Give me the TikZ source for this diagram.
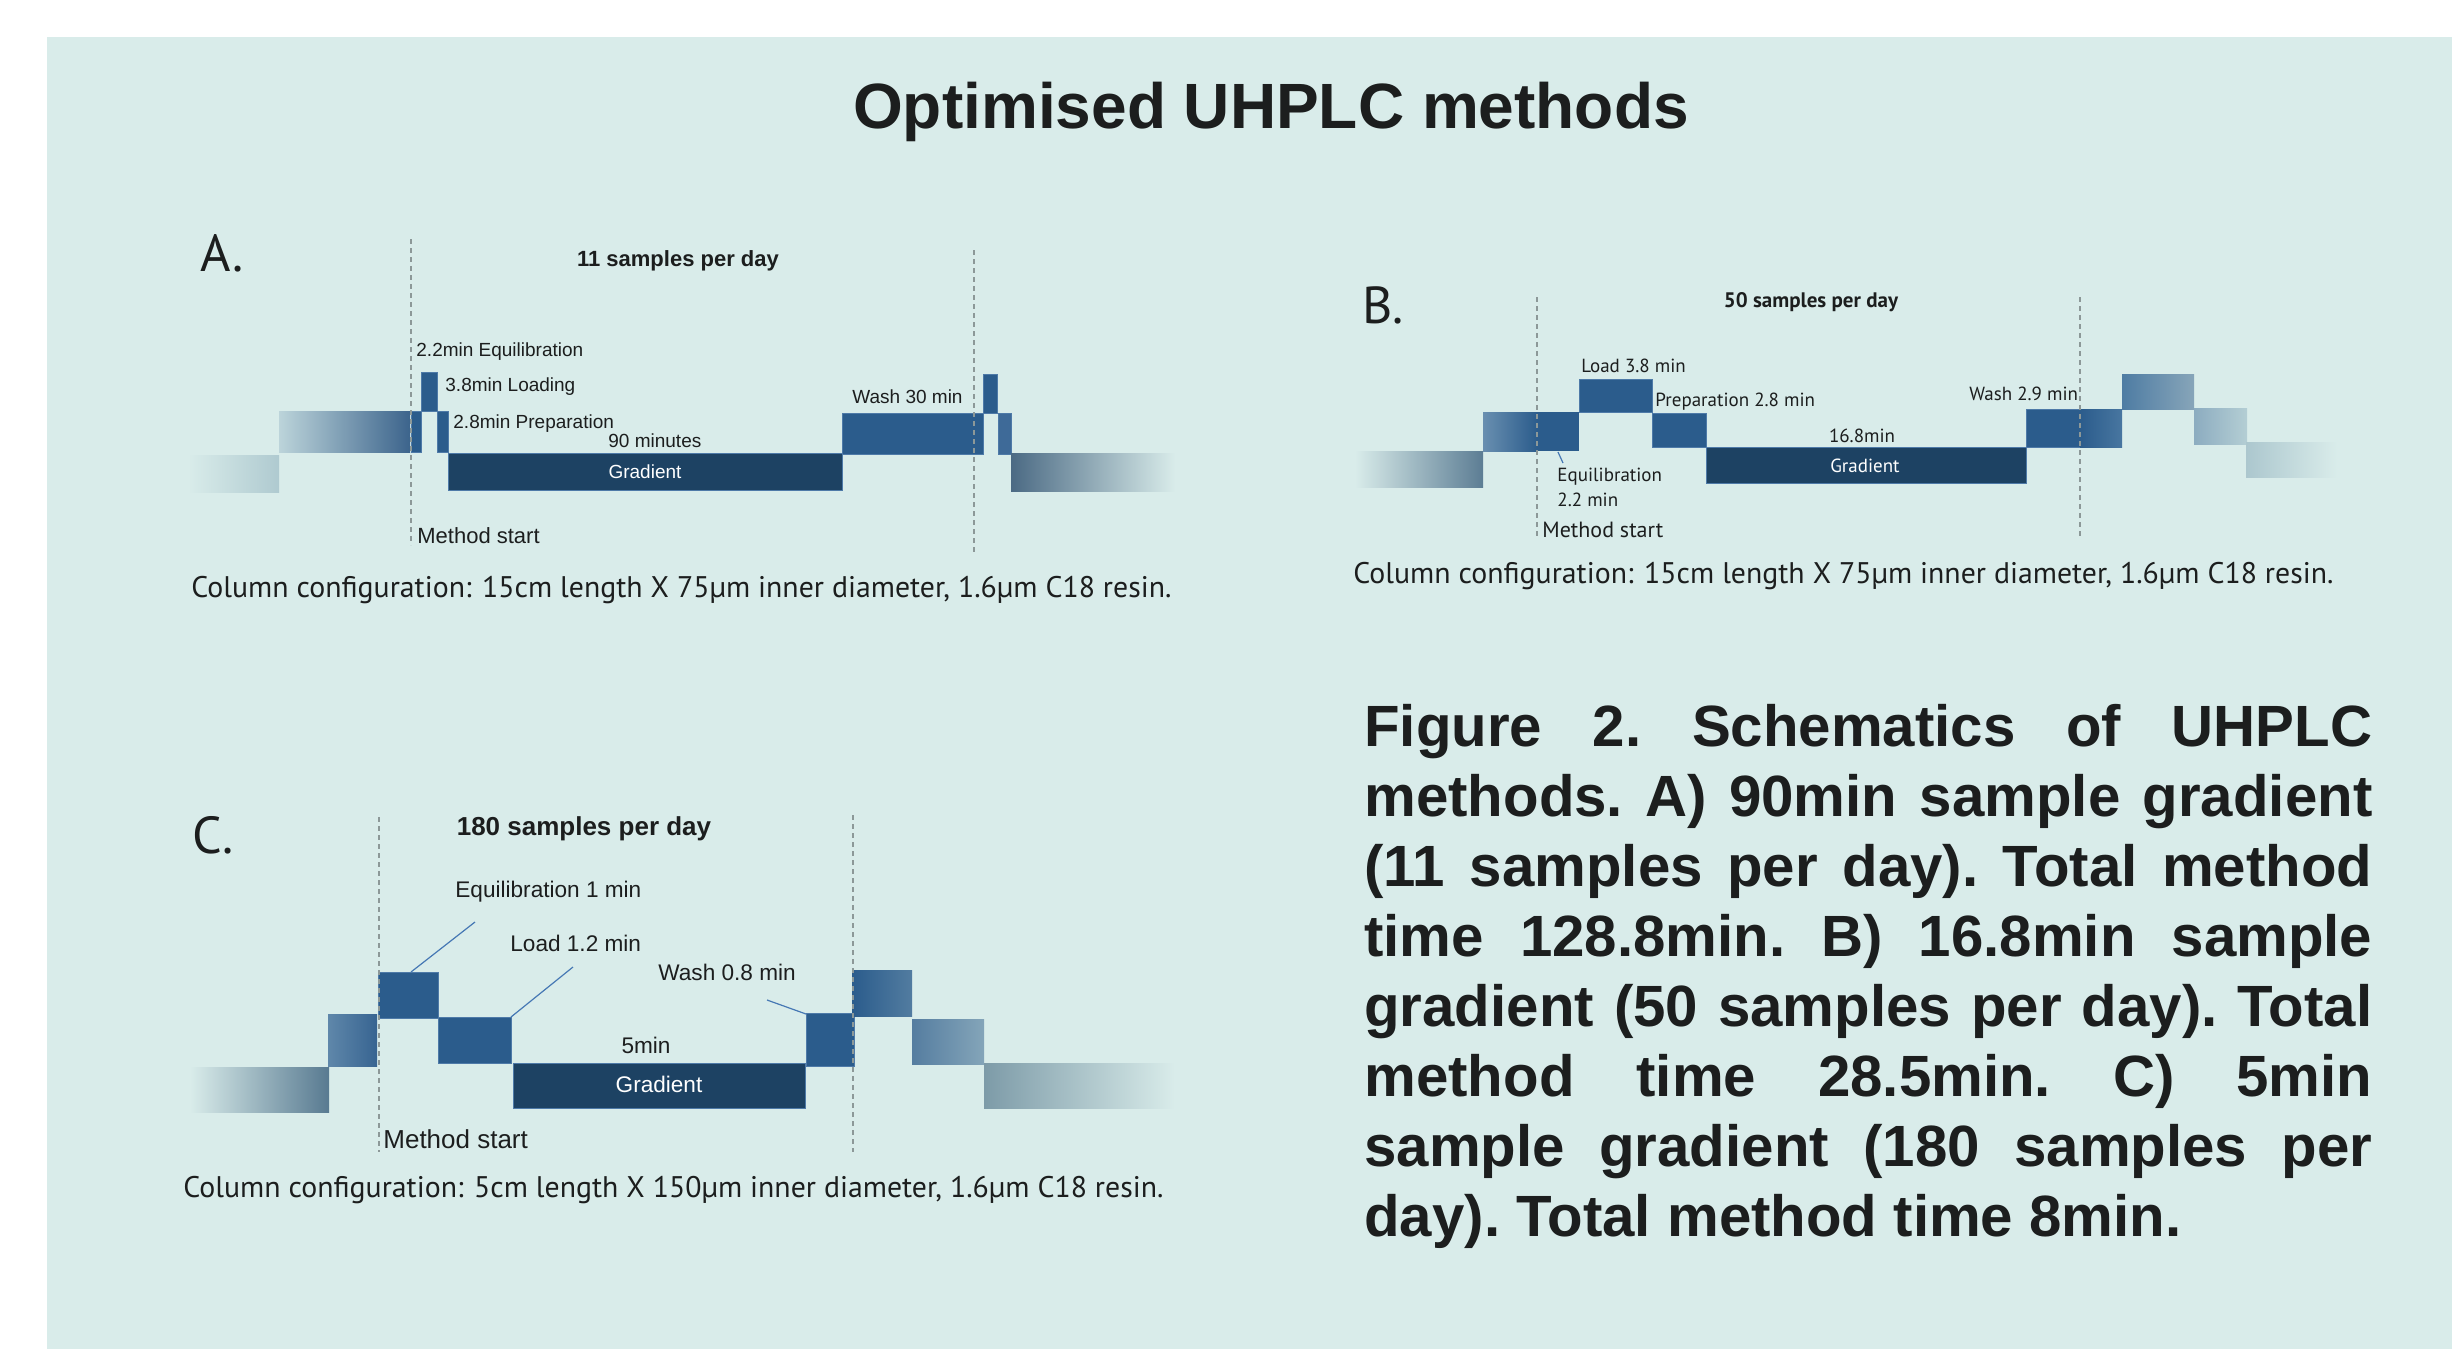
\documentclass[tikz,border=0pt]{standalone}
\usepackage{fontspec}
\setmainfont{Liberation Sans}
\newfontfamily\cfgfont{PT Sans}

\definecolor{panelbg}{RGB}{217,236,234}
\definecolor{ink}{RGB}{28,30,30}
\definecolor{stepblue}{RGB}{43,92,140}
\definecolor{navy}{RGB}{29,66,99}
\definecolor{edgeblue}{RGB}{78,122,168}
\definecolor{leadblue}{RGB}{70,120,180}
\definecolor{guidegray}{RGB}{140,152,152}
\definecolor{paleblue}{RGB}{62,106,152}
\definecolor{fadeAlow}{RGB}{175,202,208}
\definecolor{fadeAlt}{RGB}{188,212,218}
\definecolor{fadeAdk}{RGB}{60,100,140}
\definecolor{fadeAr}{RGB}{75,106,132}
\definecolor{fadeBl}{RGB}{92,125,148}
\definecolor{fadeBm}{RGB}{105,143,176}
\definecolor{washBr}{RGB}{72,118,160}
\definecolor{fadeBtl}{RGB}{78,124,163}
\definecolor{fadeBtr}{RGB}{135,165,185}
\definecolor{fadeBsl}{RGB}{140,172,192}
\definecolor{fadeBsr}{RGB}{180,206,212}
\definecolor{fadeBe}{RGB}{172,199,206}
\definecolor{fadeCl}{RGB}{88,122,145}
\definecolor{fadeCml}{RGB}{95,135,170}
\definecolor{fadeCmr}{RGB}{55,100,145}
\definecolor{fadeCt}{RGB}{82,124,160}
\definecolor{fadeCsl}{RGB}{85,125,160}
\definecolor{fadeCsr}{RGB}{132,165,185}
\definecolor{fadeCe}{RGB}{125,155,168}

\begin{document}
\begin{tikzpicture}[x=0.5pt,y=-0.5pt,
  stepbox/.style={fill=stepblue,draw=edgeblue,line width=0.5pt},
  gradbox/.style={fill=navy,draw=edgeblue,line width=0.5pt},
  guideline/.style={draw=guidegray,line width=0.6pt,dash pattern=on 2.5pt off 2pt},
  leader/.style={draw=leadblue,line width=0.6pt},
  txt/.style={anchor=base west,inner sep=0pt,text=ink},
  ctxt/.style={anchor=base,inner sep=0pt},
  paneltag/.style={txt,font=\cfgfont\fontsize{26}{30}\selectfont},
  cfgline/.style={txt,font=\cfgfont\fontsize{14.9}{17}\selectfont}]
\useasboundingbox (0,0) rectangle (2452,1349);
\fill[white] (0,0) rectangle (2452,1349);
\fill[panelbg] (47,37) rectangle (2452,1349);

\node[ctxt,text=ink,font=\fontsize{32}{38}\selectfont\bfseries] (title) at (1271,128) {Optimised UHPLC methods};

% A: 90 min gradient
\begin{scope}[font=\fontsize{9.5}{11}\selectfont]
\shade[left color=panelbg,right color=fadeAlow] (188,455) rectangle (279,492);
\shade[left color=fadeAlt,right color=fadeAdk] (279,411) rectangle (410,452);
\draw[stepbox] (411,411) rectangle (421,452);
\draw[stepbox] (421,372) rectangle (437,411);
\draw[stepbox] (437,411) rectangle (448,452);
\draw[gradbox] (448,453) rectangle (842,490);
\draw[stepbox] (842,413) rectangle (983,454);
\draw[stepbox] (983,374) rectangle (997,413);
\draw[stepbox,fill=paleblue] (998,413) rectangle (1011,454);
\shade[left color=fadeAr,right color=panelbg] (1011,453) rectangle (1175,491);
\draw[guideline] (411,239) -- (411,545);
\draw[guideline] (974,250) -- (974,553);
\node[paneltag] (tagA) at (200,271) {A.};
\node[ctxt,text=ink,font=\fontsize{11}{13}\selectfont\bfseries] (headA) at (678,266) {11 samples per day};
\node[txt] (eqA) at (416,356) {2.2min Equilibration};
\node[txt] (loadA) at (445,391) {3.8min Loading};
\node[txt] (prepA) at (453,428) {2.8min Preparation};
\node[txt] (lenA) at (608,447) {90 minutes};
\node[ctxt,text=white] (gradA) at (645,478) {Gradient};
\node[txt] (washA) at (852,403) {Wash 30 min};
\node[txt,font=\fontsize{11}{13}\selectfont] (startA) at (417,543) {Method start};
\node[cfgline] (colA) at (191,597) {Column configuration: 15cm length X 75µm inner diameter, 1.6µm C18 resin.};
\end{scope}

% B: 16.8 min gradient
\begin{scope}[font=\cfgfont\fontsize{9.5}{11}\selectfont]
\shade[left color=panelbg,right color=fadeBl] (1355,451) rectangle (1483,487);
\shade[left color=fadeBm,right color=stepblue] (1483,412) rectangle (1537,451);
\fill[stepblue] (1537,412) rectangle (1579,451);
\draw[stepbox] (1579,379) rectangle (1652,412);
\draw[stepbox] (1652,413) rectangle (1706,447);
\draw[gradbox] (1706,447) rectangle (2026,483);
\draw[stepbox] (2026,409) rectangle (2080,447);
\shade[left color=stepblue,right color=washBr] (2080,409) rectangle (2122,447);
\shade[left color=fadeBtl,right color=fadeBtr] (2122,374) rectangle (2194,409);
\shade[left color=fadeBsl,right color=fadeBsr] (2194,408) rectangle (2247,444);
\shade[left color=fadeBe,right color=panelbg] (2246,442) rectangle (2337,477);
\draw[guideline] (1537,297) -- (1537,537);
\draw[guideline] (2080,297) -- (2080,537);
\node[paneltag] (tagB) at (1362,323) {B.};
\node[ctxt,text=ink,font=\cfgfont\fontsize{10.5}{12}\selectfont\bfseries] (headB) at (1811,307) {50 samples per day};
\node[txt] (loadB) at (1581,372) {Load 3.8 min};
\node[txt] (prepB) at (1655,406) {Preparation 2.8 min};
\node[ctxt,text=ink] (lenB) at (1862,442) {16.8min};
\node[ctxt,text=white] (gradB) at (1865,472) {Gradient};
\node[txt] (washB) at (1969,400) {Wash 2.9 min};
\node[txt] (eqB) at (1557,481) {Equilibration};
\node[txt] (eqtB) at (1557,506) {2.2 min};
\node[txt,font=\cfgfont\fontsize{11}{13}\selectfont] (startB) at (1542,537) {Method start};
\coordinate (eqB foot) at (1558,452);
\coordinate (eqB lead) at (1563,463);
\draw[leader] (eqB foot) -- (eqB lead);
\node[cfgline] (colB) at (1353,583) {Column configuration: 15cm length X 75µm inner diameter, 1.6µm C18 resin.};
\end{scope}

% C: 5 min gradient
\begin{scope}[font=\fontsize{11.3}{13}\selectfont]
\shade[left color=panelbg,right color=fadeCl] (190,1067) rectangle (329,1112);
\shade[left color=fadeCml,right color=fadeCmr] (328,1014) rectangle (377,1066);
\draw[stepbox] (378,972) rectangle (438,1018);
\draw[stepbox] (438,1017) rectangle (511,1063);
\draw[gradbox] (513,1063) rectangle (805,1108);
\draw[stepbox] (806,1013) rectangle (854,1066);
\shade[left color=stepblue,right color=fadeCt] (852,970) rectangle (912,1016);
\shade[left color=fadeCsl,right color=fadeCsr] (912,1019) rectangle (984,1064);
\shade[left color=fadeCe,right color=panelbg] (984,1063) rectangle (1175,1108);
\draw[guideline] (379,817) -- (379,1152);
\draw[guideline] (853,815) -- (853,1152);
\node[paneltag] (tagC) at (192,853) {C.};
\node[ctxt,text=ink,font=\fontsize{13}{15}\selectfont\bfseries] (headC) at (584,835) {180 samples per day};
\node[txt] (eqC) at (455,897) {Equilibration 1 min};
\node[txt] (loadC) at (510,951) {Load 1.2 min};
\node[txt] (washC) at (658,980) {Wash 0.8 min};
\node[ctxt,text=ink] (lenC) at (646,1053) {5min};
\node[ctxt,text=white] (gradC) at (659,1092) {Gradient};
\node[txt,font=\fontsize{13}{15}\selectfont] (startC) at (383,1148) {Method start};
\coordinate (eqC foot) at (411,972);
\coordinate (eqC lead) at (475,922);
\coordinate (loadC foot) at (511,1017);
\coordinate (loadC lead) at (573,967);
\coordinate (washC foot) at (806,1014);
\coordinate (washC lead) at (767,1000);
\draw[leader] (eqC foot) -- (eqC lead);
\draw[leader] (loadC foot) -- (loadC lead);
\draw[leader] (washC foot) -- (washC lead);
\node[cfgline] (colC) at (183,1197) {Column configuration: 5cm length X 150µm inner diameter, 1.6µm C18 resin.};
\end{scope}

\node[anchor=north west,inner sep=0pt,text width=504pt,align=justify,text=ink,
  font=\fontsize{29.1}{35}\selectfont\bfseries\frenchspacing] (caption) at (1364,704)
  {Figure 2. Schematics of UHPLC\linebreak
   methods. A) 90min sample gradient\linebreak
   (11 samples per day). Total method\linebreak
   time 128.8min. B) 16.8min sample\linebreak
   gradient (50 samples per day). Total\linebreak
   method time 28.5min. C) 5min\linebreak
   sample gradient (180 samples per\linebreak
   day). Total method time 8min.};
\end{tikzpicture}
\end{document}
